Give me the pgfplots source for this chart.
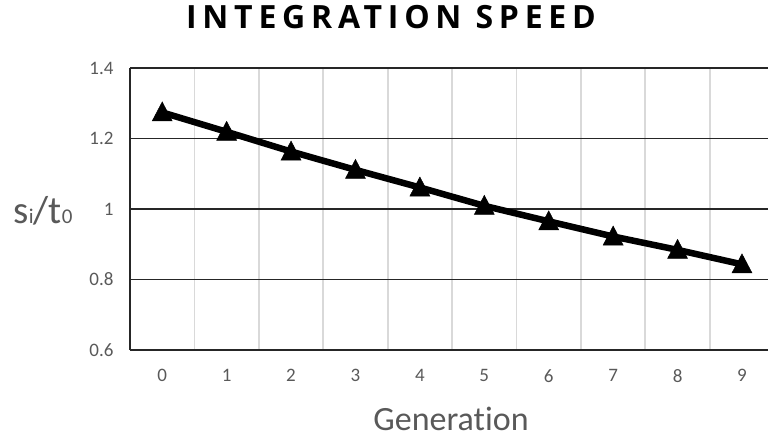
\documentclass[border=0pt]{standalone}
\usepackage{fontspec}
\setmainfont{Carlito}[Ligatures={NoCommon}]
\newfontfamily\titlefont{Open Sans}[LetterSpace=18]
\usepackage{pgfplots}
\pgfplotsset{compat=1.18}
\definecolor{txt}{HTML}{595959}
\definecolor{vgrid}{HTML}{D9D9D9}
\begin{document}
\begin{tikzpicture}
\path[use as bounding box] (0,0) rectangle (768bp,440bp);
\begin{axis}[
  at={(130bp,90bp)}, anchor=south west,
  scale only axis, width=638bp, height=282bp,
  xmin=-0.5, xmax=9.404, ymin=0.6, ymax=1.4,
  xtick={0,...,9}, ytick={0.6,0.8,1,1.2,1.4},
  minor xtick={0.5,1.5,...,8.5},
  xminorgrids, ymajorgrids,
  major grid style={black!85, line width=1.6bp},
  minor grid style={vgrid, line width=1.8bp},
  axis x line*=bottom, axis y line*=left,
  axis line style={black!85, line width=1.8bp, -},
  major tick length=0pt, minor tick length=0pt,
  tick style={draw=none},
  ticklabel style={font=\fontsize{19bp}{21bp}\selectfont, text=txt},
  /pgf/number format/assume math mode=true,
  yticklabel style={xshift=-13bp},
  xticklabel style={yshift=-16bp},
  every axis y label/.style={at={(rel axis cs:0,0.5)}, anchor=center, xshift=-87bp, yshift=-2bp},
  ylabel={\fontsize{39bp}{42bp}\selectfont\color{txt}s{\fontsize{21bp}{21bp}\selectfont i}/t{\fontsize{21bp}{21bp}\selectfont 0}},
  every axis x label/.style={at={(rel axis cs:0,0)}, anchor=base, xshift=321bp, yshift=-80bp},
  xlabel={\fontsize{34bp}{38bp}\selectfont\color{txt}Generation},
  clip=false,
]
\addplot[black, line width=6.5bp, mark=triangle*, mark size=11.5bp,
  mark options={solid, line width=0.5bp, yscale=1.1, yshift=-2bp}]
  coordinates {
  (0,1.274) (1,1.219) (2,1.163) (3,1.111) (4,1.061)
  (5,1.009) (6,0.965) (7,0.922) (8,0.884) (9,0.843)
  };
\end{axis}
\node[anchor=base, inner sep=0pt] at (391bp,411bp) {\titlefont\bfseries\fontsize{32bp}{35bp}\selectfont INTEGRATION SPEED};
\end{tikzpicture}
\end{document}
